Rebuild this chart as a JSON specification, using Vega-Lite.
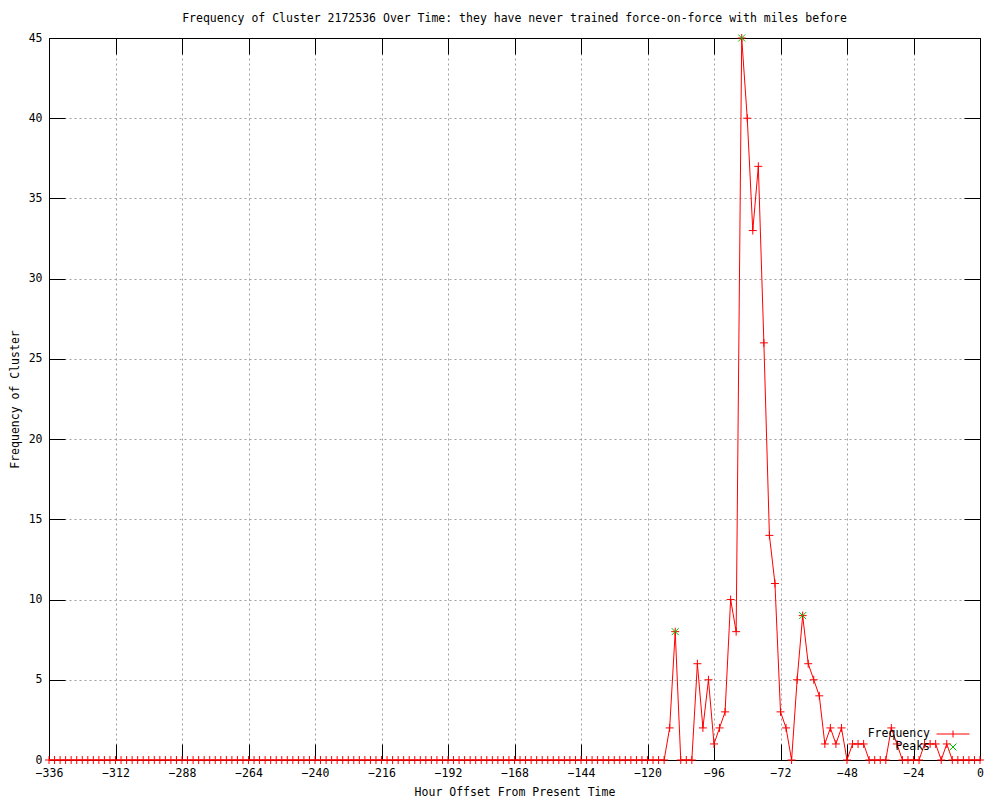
{
  "$schema": "https://vega.github.io/schema/vega-lite/v6.json",
  "width": 931,
  "height": 722,
  "autosize": {"type": "none"},
  "padding": {"left": 49, "top": 38, "right": 20, "bottom": 40},
  "background": "white",
  "title": {"text": "Frequency of Cluster 2172536 Over Time: they have never trained force-on-force with miles before", "font": "DejaVu Sans Mono", "fontSize": 11.5, "fontWeight": "normal", "color": "black", "offset": 8, "anchor": "middle"},
  "config": {
    "view": {"stroke": "black", "strokeWidth": 1},
    "axis": {"labelFont": "DejaVu Sans Mono", "labelFontSize": 11.5, "labelColor": "black", "labelFlush": false, "labelOverlap": false, "titleFont": "DejaVu Sans Mono", "titleFontSize": 11.5, "titleFontWeight": "normal", "titleColor": "black", "domainColor": "black", "tickColor": "black", "gridColor": "#a0a0a0", "gridDash": [2, 3], "gridWidth": 1, "zindex": 1},
    "legend": {"orient": "none", "legendX": 897, "legendY": 689, "padding": 0, "symbolSize": 169, "symbolStrokeWidth": 1, "labelAlign": "right", "labelOffset": -30, "labelFont": "DejaVu Sans Mono", "labelFontSize": 11.5, "labelColor": "black", "rowPadding": 0}
  },
  "datasets": {
    "freq": [
      {"h": -336, "f": 0}, {"h": -334, "f": 0}, {"h": -332, "f": 0}, {"h": -330, "f": 0}, {"h": -328, "f": 0}, {"h": -326, "f": 0}, {"h": -324, "f": 0}, {"h": -322, "f": 0}, {"h": -320, "f": 0}, {"h": -318, "f": 0}, {"h": -316, "f": 0}, {"h": -314, "f": 0},
      {"h": -312, "f": 0}, {"h": -310, "f": 0}, {"h": -308, "f": 0}, {"h": -306, "f": 0}, {"h": -304, "f": 0}, {"h": -302, "f": 0}, {"h": -300, "f": 0}, {"h": -298, "f": 0}, {"h": -296, "f": 0}, {"h": -294, "f": 0}, {"h": -292, "f": 0}, {"h": -290, "f": 0},
      {"h": -288, "f": 0}, {"h": -286, "f": 0}, {"h": -284, "f": 0}, {"h": -282, "f": 0}, {"h": -280, "f": 0}, {"h": -278, "f": 0}, {"h": -276, "f": 0}, {"h": -274, "f": 0}, {"h": -272, "f": 0}, {"h": -270, "f": 0}, {"h": -268, "f": 0}, {"h": -266, "f": 0},
      {"h": -264, "f": 0}, {"h": -262, "f": 0}, {"h": -260, "f": 0}, {"h": -258, "f": 0}, {"h": -256, "f": 0}, {"h": -254, "f": 0}, {"h": -252, "f": 0}, {"h": -250, "f": 0}, {"h": -248, "f": 0}, {"h": -246, "f": 0}, {"h": -244, "f": 0}, {"h": -242, "f": 0},
      {"h": -240, "f": 0}, {"h": -238, "f": 0}, {"h": -236, "f": 0}, {"h": -234, "f": 0}, {"h": -232, "f": 0}, {"h": -230, "f": 0}, {"h": -228, "f": 0}, {"h": -226, "f": 0}, {"h": -224, "f": 0}, {"h": -222, "f": 0}, {"h": -220, "f": 0}, {"h": -218, "f": 0},
      {"h": -216, "f": 0}, {"h": -214, "f": 0}, {"h": -212, "f": 0}, {"h": -210, "f": 0}, {"h": -208, "f": 0}, {"h": -206, "f": 0}, {"h": -204, "f": 0}, {"h": -202, "f": 0}, {"h": -200, "f": 0}, {"h": -198, "f": 0}, {"h": -196, "f": 0}, {"h": -194, "f": 0},
      {"h": -192, "f": 0}, {"h": -190, "f": 0}, {"h": -188, "f": 0}, {"h": -186, "f": 0}, {"h": -184, "f": 0}, {"h": -182, "f": 0}, {"h": -180, "f": 0}, {"h": -178, "f": 0}, {"h": -176, "f": 0}, {"h": -174, "f": 0}, {"h": -172, "f": 0}, {"h": -170, "f": 0},
      {"h": -168, "f": 0}, {"h": -166, "f": 0}, {"h": -164, "f": 0}, {"h": -162, "f": 0}, {"h": -160, "f": 0}, {"h": -158, "f": 0}, {"h": -156, "f": 0}, {"h": -154, "f": 0}, {"h": -152, "f": 0}, {"h": -150, "f": 0}, {"h": -148, "f": 0}, {"h": -146, "f": 0},
      {"h": -144, "f": 0}, {"h": -142, "f": 0}, {"h": -140, "f": 0}, {"h": -138, "f": 0}, {"h": -136, "f": 0}, {"h": -134, "f": 0}, {"h": -132, "f": 0}, {"h": -130, "f": 0}, {"h": -128, "f": 0}, {"h": -126, "f": 0}, {"h": -124, "f": 0}, {"h": -122, "f": 0},
      {"h": -120, "f": 0}, {"h": -118, "f": 0}, {"h": -116, "f": 0}, {"h": -114, "f": 0}, {"h": -112, "f": 2}, {"h": -110, "f": 8}, {"h": -108, "f": 0}, {"h": -106, "f": 0}, {"h": -104, "f": 0}, {"h": -102, "f": 6}, {"h": -100, "f": 2}, {"h": -98, "f": 5},
      {"h": -96, "f": 1}, {"h": -94, "f": 2}, {"h": -92, "f": 3}, {"h": -90, "f": 10}, {"h": -88, "f": 8}, {"h": -86, "f": 45}, {"h": -84, "f": 40}, {"h": -82, "f": 33}, {"h": -80, "f": 37}, {"h": -78, "f": 26}, {"h": -76, "f": 14}, {"h": -74, "f": 11},
      {"h": -72, "f": 3}, {"h": -70, "f": 2}, {"h": -68, "f": 0}, {"h": -66, "f": 5}, {"h": -64, "f": 9}, {"h": -62, "f": 6}, {"h": -60, "f": 5}, {"h": -58, "f": 4}, {"h": -56, "f": 1}, {"h": -54, "f": 2}, {"h": -52, "f": 1}, {"h": -50, "f": 2},
      {"h": -48, "f": 0}, {"h": -46, "f": 1}, {"h": -44, "f": 1}, {"h": -42, "f": 1}, {"h": -40, "f": 0}, {"h": -38, "f": 0}, {"h": -36, "f": 0}, {"h": -34, "f": 0}, {"h": -32, "f": 2}, {"h": -30, "f": 1}, {"h": -28, "f": 0}, {"h": -26, "f": 0},
      {"h": -24, "f": 0}, {"h": -22, "f": 0}, {"h": -20, "f": 1}, {"h": -18, "f": 1}, {"h": -16, "f": 1}, {"h": -14, "f": 0}, {"h": -12, "f": 1}, {"h": -10, "f": 0}, {"h": -8, "f": 0}, {"h": -6, "f": 0}, {"h": -4, "f": 0}, {"h": -2, "f": 0},
      {"h": 0, "f": 0}
    ],
    "peaks": [
      {"h": -110, "f": 8}, {"h": -86, "f": 45}, {"h": -64, "f": 9}
    ]
  },
  "layer": [
    {
      "data": {"name": "freq"},
      "mark": {"type": "line", "color": "#ff0000", "strokeWidth": 1},
      "encoding": {
        "x": {"field": "h", "type": "quantitative", "scale": {"domain": [-336, 0], "nice": false, "zero": false},
          "axis": {"values": [-336, -312, -288, -264, -240, -216, -192, -168, -144, -120, -96, -72, -48, -24, 0], "grid": true, "tickSize": -16, "labelPadding": 23, "title": "Hour Offset From Present Time", "titlePadding": 8}},
        "y": {"field": "f", "type": "quantitative", "scale": {"domain": [0, 45], "nice": false},
          "axis": {"values": [0, 5, 10, 15, 20, 25, 30, 35, 40, 45], "grid": true, "tickSize": -16, "labelPadding": 23, "title": "Frequency of Cluster", "titlePadding": 8}}
      }
    },
    {
      "data": {"name": "freq"},
      "mark": {"type": "point", "shape": "M-1,0H1M0,-1V1", "size": 64, "filled": false, "strokeWidth": 1, "opacity": 1},
      "encoding": {
        "x": {"field": "h", "type": "quantitative", "axis": null},
        "y": {"field": "f", "type": "quantitative", "axis": null},
        "color": {"datum": "Frequency", "type": "nominal", "scale": {"domain": ["Frequency", "Peaks"], "range": ["#ff0000", "#00c000"]}, "legend": {"title": null}}
      }
    },
    {
      "data": {"name": "peaks"},
      "mark": {"type": "point", "size": 169, "filled": false, "strokeWidth": 1, "opacity": 1},
      "encoding": {
        "x": {"field": "h", "type": "quantitative",
          "axis": {"orient": "top", "values": [-336, -312, -288, -264, -240, -216, -192, -168, -144, -120, -96, -72, -48, -24, 0], "labels": false, "grid": false, "tickSize": -16, "title": null, "domain": true}},
        "y": {"field": "f", "type": "quantitative",
          "axis": {"orient": "right", "values": [0, 5, 10, 15, 20, 25, 30, 35, 40, 45], "labels": false, "grid": false, "tickSize": -16, "title": null, "domain": true}},
        "color": {"datum": "Peaks", "type": "nominal", "legend": {"title": null}},
        "shape": {"datum": "Peaks", "type": "nominal", "scale": {"domain": ["Frequency", "Peaks"], "range": ["M-2.54,0H2.54M0,-0.54V0.54", "M-0.54,-0.54L0.54,0.54M-0.54,0.54L0.54,-0.54"]}, "legend": {"title": null}}
      }
    }
  ],
  "resolve": {"axis": {"x": "independent", "y": "independent"}}
}
